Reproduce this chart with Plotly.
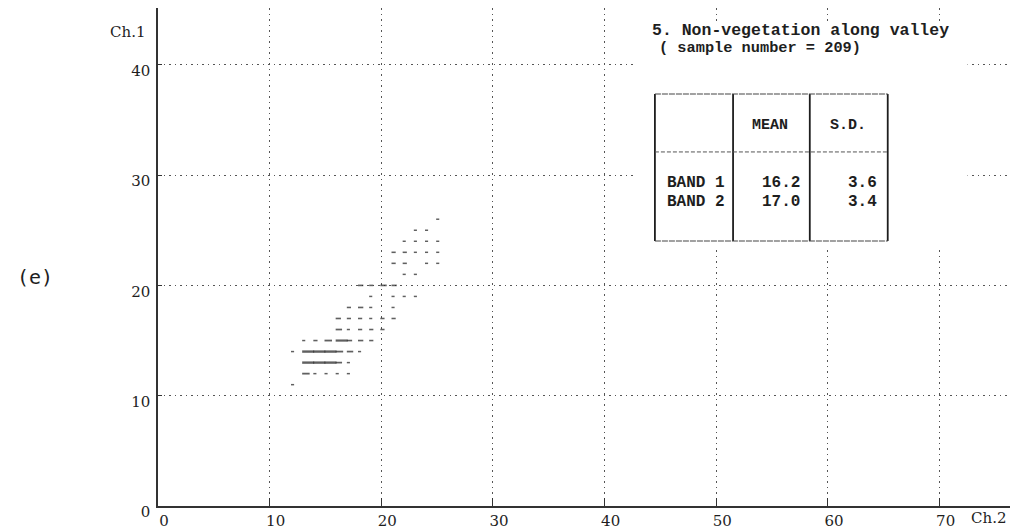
import plotly.graph_objects as go

# ---- data ----
# cells of the 2-D histogram: Ch.2 value (x), Ch.1 value (y), number of pixels
ch2 = [25,
       23, 24,
       22, 23, 24, 25,
       21, 22, 23, 24, 25,
       21, 22, 24, 25,
       22, 23,
       18, 19, 20, 21,
       19, 21, 22, 23,
       17, 18, 19, 21,
       16, 17, 18, 19, 20, 21,
       16, 17, 18, 19, 20,
       13, 14, 15, 16, 17, 18, 19,
       12, 13, 14, 15, 16, 17, 18,
       13, 14, 15, 16, 17,
       13, 14, 15, 16, 17,
       12]
ch1 = [26,
       25, 25,
       24, 24, 24, 24,
       23, 23, 23, 23, 23,
       22, 22, 22, 22,
       21, 21,
       20, 20, 20, 20,
       19, 19, 19, 19,
       18, 18, 18, 18,
       17, 17, 17, 17, 17, 17,
       16, 16, 16, 16, 16,
       15, 15, 15, 15, 15, 15, 15,
       14, 14, 14, 14, 14, 14, 14,
       13, 13, 13, 13, 13,
       12, 12, 12, 12, 12,
       11]
counts = [1,
          1, 1,
          1, 1, 1, 1,
          2, 2, 1, 1, 1,
          2, 2, 1, 1,
          1, 1,
          3, 2, 4, 3,
          1, 1, 1, 1,
          2, 3, 1, 1,
          3, 2, 2, 1, 2, 2,
          4, 1, 2, 2, 2,
          1, 2, 5, 10, 3, 3, 2,
          1, 15, 18, 15, 5, 4, 1,
          13, 15, 13, 4, 1,
          5, 1, 1, 1, 1,
          1]

x_ticks = [0, 10, 20, 30, 40, 50, 60, 70]
y_ticks = [0, 10, 20, 30, 40]

title_text = "5. Non-vegetation along valley"
subtitle_text = "( sample number = 209)"
table_cols = ["MEAN", "S.D."]
table_rows = ["BAND 1", "BAND 2"]
table_mean = ["16.2", "17.0"]
table_sd = ["3.6", "3.4"]

# ---- styling ----
W, H = 1021, 531
ML, MR, MT, MB = 158, 11, 8, 25
X_MAX, Y_MAX = 76.3, 45.15
PX_PER_X = (W - ML - MR) / X_MAX
ink = "#1e1e1e"


def px_x(p):  # pixel -> paper x
    return (p - ML) / (W - ML - MR)


def px_y(p):  # pixel -> paper y
    return (H - MB - p) / (H - MT - MB)


dash_len = [min(2.0 + 1.1 * c, 12.0) for c in counts]      # pixel length of each dash
sizes = [L / 1.4 for L in dash_len]                          # plotly line-ew length = 1.4*size
widths = [min(1.4 + 0.08 * c, 2.4) for c in counts]
xs = [x + (L / 2 - 1) / PX_PER_X for x, L in zip(ch2, dash_len)]

fig = go.Figure()
fig.add_trace(go.Scatter(
    x=xs, y=ch1, mode="markers",
    marker=dict(symbol="line-ew", size=sizes, color=ink,
                line=dict(color=ink, width=widths)),
    hoverinfo="skip", showlegend=False, cliponaxis=False))

mono = "Liberation Mono"
serif = "DejaVu Serif"

ann = []
ann.append(dict(x=px_x(147), y=px_y(32), xref="paper", yref="paper", text="Ch.1", showarrow=False,
                xanchor="right", yanchor="middle", font=dict(family=serif, size=15, color=ink)))
ann.append(dict(x=px_x(969), y=px_y(518), xref="paper", yref="paper", text="Ch.2", showarrow=False,
                xanchor="left", yanchor="middle", font=dict(family=serif, size=15, color=ink)))
ann.append(dict(x=px_x(35), y=px_y(277), xref="paper", yref="paper", text="(e)", showarrow=False,
                xanchor="center", yanchor="middle",
                font=dict(family="DejaVu Sans Mono", size=20, color=ink)))
ann.append(dict(x=44.05, y=43.15, xref="x", yref="y", text="<b>" + title_text + "</b>",
                showarrow=False, xanchor="left", yanchor="middle",
                font=dict(family=mono, size=16.5, color=ink)))
ann.append(dict(x=44.7, y=41.5, xref="x", yref="y", text="<b>" + subtitle_text + "</b>",
                showarrow=False, xanchor="left", yanchor="middle",
                font=dict(family=mono, size=15.3, color=ink)))
# table texts
col_cx = [54.8, 61.8]
for cx, t in zip(col_cx, table_cols):
    ann.append(dict(x=cx, y=34.5, xref="x", yref="y", text="<b>" + t + "</b>", showarrow=False,
                    xanchor="center", yanchor="middle", font=dict(family=mono, size=15, color=ink)))
row_y = [29.3, 27.6]
for ry, lab, m, s in zip(row_y, table_rows, table_mean, table_sd):
    ann.append(dict(x=45.4, y=ry, xref="x", yref="y", text="<b>" + lab + "</b>", showarrow=False,
                    xanchor="left", yanchor="middle", font=dict(family=mono, size=16, color=ink)))
    ann.append(dict(x=57.65, y=ry, xref="x", yref="y", text="<b>" + m + "</b>", showarrow=False,
                    xanchor="right", yanchor="middle", font=dict(family=mono, size=16, color=ink)))
    ann.append(dict(x=64.55, y=ry, xref="x", yref="y", text="<b>" + s + "</b>", showarrow=False,
                    xanchor="right", yanchor="middle", font=dict(family=mono, size=16, color=ink)))

shapes = []
# white area hiding the grid behind the legend text / table
shapes.append(dict(type="rect", xref="x", yref="y", x0=42.6, x1=72.5, y0=23.4, y1=43.9,
                   fillcolor="white", line=dict(width=0), layer="between"))
t_left, t_c1, t_c2, t_right = 44.5, 51.5, 58.37, 65.35
t_top, t_mid, t_bot = 37.35, 32.1, 24.03
for xv in [t_left, t_c1, t_c2, t_right]:
    shapes.append(dict(type="line", xref="x", yref="y", x0=xv, x1=xv, y0=t_bot, y1=t_top,
                       line=dict(color=ink, width=1.8), layer="above"))
for yv in [t_top, t_bot]:
    shapes.append(dict(type="line", xref="x", yref="y", x0=t_left, x1=t_right, y0=yv, y1=yv,
                       line=dict(color="#444444", width=1.1, dash="6px,1px"), layer="above"))
shapes.append(dict(type="line", xref="x", yref="y", x0=t_left, x1=t_right, y0=t_mid, y1=t_mid,
                   line=dict(color="#555555", width=1, dash="4px,2px"), layer="above"))

grid_dash = "1.5px,4px"
fig.update_layout(
    width=W, height=H, autosize=False,
    margin=dict(l=ML, r=MR, t=MT, b=MB, autoexpand=False),
    paper_bgcolor="white", plot_bgcolor="white",
    annotations=ann, shapes=shapes,
    xaxis=dict(range=[0, X_MAX], tickvals=x_ticks, ticktext=[str(v) for v in x_ticks],
               showgrid=True, gridcolor="#555555", gridwidth=1, griddash=grid_dash,
               zeroline=False, showline=True, linecolor="#333333", linewidth=1.5,
               ticks="inside", ticklen=8, tickwidth=1.2, tickcolor="#333333",
               tickfont=dict(family=serif, size=15, color=ink), automargin=False,
               ticklabelshift=6, ticklabelstandoff=0, fixedrange=True),
    yaxis=dict(range=[0, Y_MAX], tickvals=y_ticks, ticktext=[str(v) for v in y_ticks],
               showgrid=True, gridcolor="#555555", gridwidth=1, griddash=grid_dash,
               zeroline=False, showline=True, linecolor="#333333", linewidth=1.5,
               ticks="inside", ticklen=4, tickwidth=1.2, tickcolor="#333333",
               tickfont=dict(family=serif, size=15, color=ink), automargin=False,
               ticklabelshift=6, ticklabelstandoff=3, fixedrange=True),
)

fig.write_html("out.html", config={"displayModeBar": False},
               post_script="document.body.style.margin='0px';document.body.style.overflow='hidden';")
